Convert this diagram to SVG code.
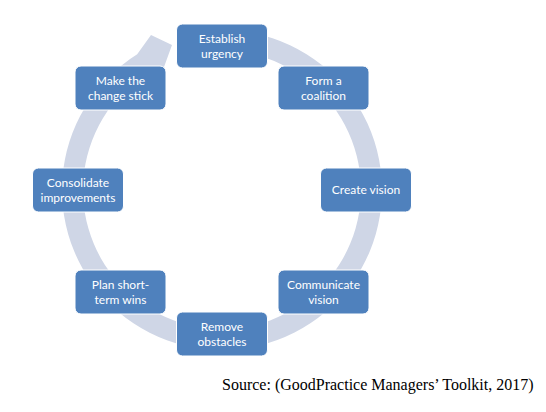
<svg xmlns="http://www.w3.org/2000/svg" width="546" height="412" viewBox="0 0 546 412">
<style>
.box{fill:#4f81bd;stroke:#ffffff;stroke-width:1}
.lbl{font-family:Lato,"Liberation Sans",sans-serif;font-size:12px;fill:#ffffff;text-anchor:middle}
.src{font-family:"Liberation Serif",serif;font-size:16px;fill:#000000}
</style>
<rect width="546" height="412" fill="#ffffff"/>
<g id="connectors">
<path d="M 235.9 30.6 A 160 160 0 1 1 137.2 54.3 L 151 35 L 172 45 L 160 78 L 148.3 72.1 A 139 139 0 1 0 234.1 51.5 Z" fill="#cfd6e6"/>
</g>
<g id="n1"><rect class="box" x="176.5" y="24" width="91" height="44" rx="6"/><text class="lbl" x="222" y="43">Establish</text><text class="lbl" x="222" y="57.5">urgency</text></g>
<g id="n2"><rect class="box" x="278" y="66" width="91" height="44" rx="6"/><text class="lbl" x="323.5" y="85">Form a</text><text class="lbl" x="323.5" y="99.5">coalition</text></g>
<g id="n3"><rect class="box" x="320.5" y="168" width="91" height="44" rx="6"/><text class="lbl" x="366" y="194">Create vision</text></g>
<g id="n4"><rect class="box" x="278" y="270" width="91" height="44" rx="6"/><text class="lbl" x="323.5" y="289">Communicate</text><text class="lbl" x="323.5" y="303.5">vision</text></g>
<g id="n5"><rect class="box" x="176.5" y="312" width="91" height="44" rx="6"/><text class="lbl" x="222" y="331">Remove</text><text class="lbl" x="222" y="345.5">obstacles</text></g>
<g id="n6"><rect class="box" x="75" y="270" width="91" height="44" rx="6"/><text class="lbl" x="120.5" y="289">Plan short-</text><text class="lbl" x="120.5" y="303.5">term wins</text></g>
<g id="n7"><rect class="box" x="32.5" y="168" width="91" height="44" rx="6"/><text class="lbl" x="78" y="187">Consolidate</text><text class="lbl" x="78" y="201.5">improvements</text></g>
<g id="n8"><rect class="box" x="75" y="66" width="91" height="44" rx="6"/><text class="lbl" x="120.5" y="85">Make the</text><text class="lbl" x="120.5" y="99.5">change stick</text></g>
<text class="src" x="222" y="390">Source: (GoodPractice Managers’ Toolkit, 2017)</text>
</svg>
